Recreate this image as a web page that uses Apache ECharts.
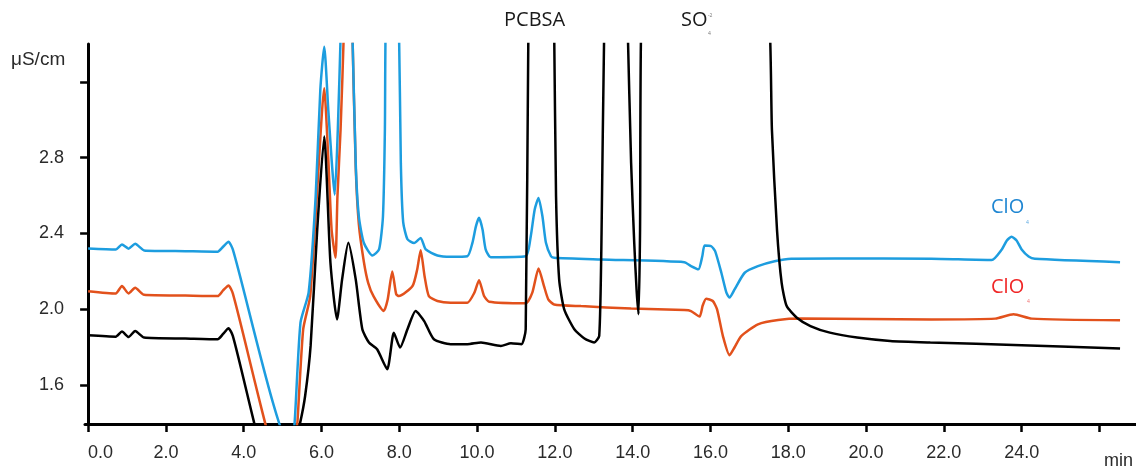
<!DOCTYPE html>
<html>
<head>
<meta charset="utf-8">
<script src="https://cdn.jsdelivr.net/npm/echarts@6/dist/echarts.min.js"></script>
<style>
  html, body { margin: 0; padding: 0; background: #fff; }
  #chart { width: 1136px; height: 471px; }
</style>
</head>
<body>
<div id="chart"></div>
<script>
// axis ticks / labels
const xTicks = [0, 2, 4, 6, 8, 10, 12, 14, 16, 18, 20, 22, 24, 26];
const xLabels = [0, 2, 4, 6, 8, 10, 12, 14, 16, 18, 20, 22, 24];
const yTicks = [1.6, 2.0, 2.4, 2.8, 3.2];
const yLabels = [1.6, 2.0, 2.4, 2.8];

// [time (min), conductivity (µS/cm)]
const blueTrace = [
  [0, 2.321], [0.71, 2.316], [0.87, 2.342], [1.04, 2.32], [1.21, 2.346], [1.44, 2.311],
  [2.5, 2.307], [3.33, 2.304], [3.47, 2.33], [3.61, 2.356], [3.72, 2.316],
  [5.22, 1.265], [5.31, 1.405], [5.46, 1.93], [5.67, 2.09], [5.85, 2.595], [5.97, 3.16],
  [6.07, 3.386], [6.18, 3.035], [6.34, 2.605], [6.42, 2.95], [6.5, 3.5], [6.64, 4.5],
  [6.79, 3.5], [6.88, 2.77], [6.96, 2.49], [7.09, 2.35], [7.31, 2.284], [7.48, 2.316],
  [7.58, 2.49], [7.63, 2.95], [7.65, 3.5], [7.82, 4.5], [7.99, 3.5], [8.04, 2.77],
  [8.1, 2.46], [8.21, 2.37], [8.38, 2.35], [8.55, 2.377], [8.68, 2.316], [8.98, 2.284],
  [9.32, 2.277], [9.75, 2.28], [9.88, 2.351], [9.97, 2.438], [10.05, 2.483], [10.14, 2.421],
  [10.22, 2.316], [10.35, 2.275], [11.25, 2.28], [11.38, 2.386], [11.48, 2.526], [11.58, 2.588],
  [11.68, 2.491], [11.77, 2.351], [11.9, 2.28], [11.98, 2.272], [13.19, 2.263], [15.33, 2.249],
  [15.5, 2.228], [15.69, 2.211], [15.79, 2.28], [15.85, 2.337], [16.02, 2.333], [16.12, 2.307],
  [16.28, 2.193], [16.41, 2.088], [16.49, 2.062], [16.62, 2.105], [16.88, 2.193], [17.22, 2.228],
  [17.65, 2.254], [18.08, 2.267], [19.2, 2.268], [21.68, 2.267], [23.23, 2.26], [23.49, 2.316],
  [23.62, 2.363], [23.74, 2.383], [23.87, 2.363], [24.0, 2.316], [24.18, 2.279], [24.34, 2.267],
  [26.53, 2.249]
];

const redTrace = [
  [0, 2.096], [0.71, 2.084], [0.87, 2.123], [1.04, 2.084], [1.21, 2.114], [1.44, 2.077],
  [2.5, 2.073], [3.33, 2.07], [3.47, 2.1], [3.61, 2.126], [3.72, 2.084],
  [5.22, 0.97], [5.38, 1.4], [5.53, 1.895], [5.71, 2.07], [5.88, 2.596], [6.07, 3.167],
  [6.18, 2.772], [6.26, 2.42], [6.36, 2.272], [6.41, 2.596], [6.49, 2.947], [6.58, 3.5],
  [6.68, 4.5], [6.79, 3.5], [6.88, 2.75], [6.96, 2.45], [7.09, 2.25], [7.2, 2.14],
  [7.34, 2.068], [7.6, 1.991], [7.7, 2.05], [7.82, 2.2], [7.92, 2.08], [7.99, 2.07],
  [8.34, 2.123], [8.46, 2.21], [8.55, 2.312], [8.65, 2.175], [8.76, 2.07], [8.98, 2.044],
  [9.32, 2.035], [9.75, 2.035], [9.93, 2.088], [10.05, 2.154], [10.18, 2.07], [10.31, 2.04],
  [11.25, 2.032], [11.42, 2.088], [11.58, 2.216], [11.72, 2.123], [11.83, 2.053], [11.98, 2.026],
  [12.67, 2.017], [13.96, 2.004], [15.33, 1.996], [15.5, 1.991], [15.72, 1.962], [15.8, 2.02],
  [15.89, 2.056], [16.06, 2.044], [16.17, 2.0], [16.32, 1.859], [16.49, 1.758], [16.62, 1.8],
  [16.79, 1.859], [17.22, 1.921], [17.74, 1.944], [18.34, 1.951], [21.68, 1.947], [23.32, 1.951],
  [23.79, 1.974], [24.26, 1.951], [26.53, 1.942]
];

const blackTrace = [
  [0, 1.863], [0.71, 1.856], [0.87, 1.883], [1.04, 1.854], [1.21, 1.886], [1.44, 1.851],
  [2.5, 1.846], [3.33, 1.842], [3.47, 1.87], [3.61, 1.9], [3.72, 1.86],
  [4.95, 0.95], [5.45, 1.4], [5.58, 1.544], [5.72, 1.807], [5.89, 2.42], [6.07, 2.912],
  [6.23, 2.246], [6.4, 1.947], [6.53, 2.158], [6.69, 2.351], [6.88, 2.158], [7.05, 1.895],
  [7.22, 1.825], [7.43, 1.789], [7.69, 1.684], [7.86, 1.877], [8.02, 1.798], [8.21, 1.895],
  [8.42, 1.991], [8.64, 1.938], [8.89, 1.842], [9.32, 1.816], [9.75, 1.816], [10.1, 1.825],
  [10.61, 1.807], [10.87, 1.821], [11.14, 1.816], [11.25, 1.895], [11.32, 3.5], [11.65, 8],
  [11.98, 3.5], [12.03, 2.596], [12.11, 2.158], [12.24, 2.0], [12.5, 1.895], [12.76, 1.846],
  [13.01, 1.825], [13.14, 1.86], [13.2, 2.4], [13.27, 3.5], [13.57, 6], [13.87, 3.5],
  [13.96, 2.772], [14.04, 2.351], [14.1, 2.105], [14.15, 1.974], [14.19, 2.421], [14.22, 3.5],
  [15.9, 8], [17.52, 3.5], [17.58, 2.947], [17.71, 2.421], [17.83, 2.14], [17.96, 2.017],
  [18.22, 1.956], [18.57, 1.912], [19.07, 1.877], [19.77, 1.851], [20.62, 1.833], [21.65, 1.825],
  [24.0, 1.811], [26.53, 1.793]
];

const chart = echarts.init(document.getElementById('chart'));

const axisFont = { fontFamily: 'Liberation Sans, Arial, sans-serif', fontSize: 18, color: '#2a2a2a' };
const peakFont = 'Open Sans, Noto Sans, sans-serif';

function trace(name, data, color) {
  return {
    name: name,
    type: 'line',
    data: data,
    symbol: 'none',
    smooth: 0.2,
    clip: true,
    lineStyle: { color: color, width: 2.5 },
    emphasis: { disabled: true }
  };
}

chart.setOption({
  animation: false,
  backgroundColor: '#fff',
  grid: { left: 85, right: 0, top: 44, bottom: 47, containLabel: false, outerBoundsMode: 'none' },
  xAxis: {
    type: 'value',
    min: -0.08,
    max: 26.94,
    splitLine: { show: false },
    axisLine: { lineStyle: { color: '#000', width: 3 } },
    axisTick: { customValues: xTicks, length: 8, lineStyle: { color: '#000', width: 2.5 } },
    axisLabel: Object.assign({
      customValues: xLabels,
      margin: 20,
      // first label sits to the right of its tick in the original
      formatter: v => (v === 0 ? '{first|0.0}' : v.toFixed(1)),
      rich: { first: Object.assign({ padding: [0, 0, 0, 25] }, axisFont) }
    }, axisFont)
  },
  yAxis: {
    type: 'value',
    min: 1.395,
    max: 3.4,
    splitLine: { show: false },
    axisLine: { show: true, lineStyle: { color: '#000', width: 3 } },
    axisTick: { show: true, customValues: yTicks, length: 8, lineStyle: { color: '#000', width: 2.5 } },
    axisLabel: Object.assign({ customValues: yLabels, margin: 21, formatter: v => v.toFixed(1) }, axisFont)
  },
  series: [
    trace('ClO4 red', redTrace, '#e2511c'),
    trace('ClO4 blue', blueTrace, '#1d9ddf'),
    trace('sample', blackTrace, '#000')
  ],
  graphic: [
    { type: 'text', left: 11, top: 50, style: { text: 'μS/cm', fontFamily: 'Liberation Sans, Arial, sans-serif', fontSize: 19, fill: '#2a2a2a' } },
    { type: 'text', left: 1104, top: 452, style: { text: 'min', fontFamily: 'Liberation Sans, Arial, sans-serif', fontSize: 18, fill: '#2a2a2a' } },
    { type: 'text', left: 504, top: 10, style: { text: 'PCBSA', fontFamily: peakFont, fontSize: 20, fill: '#1a1a1a' } },
    { type: 'text', left: 681, top: 10, style: { text: 'SO', fontFamily: peakFont, fontSize: 20, fill: '#1a1a1a' } },
    { type: 'text', left: 708, top: 13, style: { text: '-2', fontFamily: peakFont, fontSize: 5, fill: '#777' } },
    { type: 'text', left: 708, top: 31, style: { text: '4', fontFamily: peakFont, fontSize: 5, fill: '#777' } },
    { type: 'text', left: 991, top: 197, style: { text: 'ClO', fontFamily: peakFont, fontSize: 20, fill: '#1f86d2' } },
    { type: 'text', left: 1026, top: 220, style: { text: '4', fontFamily: peakFont, fontSize: 5, fill: '#5aa8e0' } },
    { type: 'text', left: 991, top: 277, style: { text: 'ClO', fontFamily: peakFont, fontSize: 20, fill: '#f02626' } },
    { type: 'text', left: 1027, top: 299, style: { text: '4', fontFamily: peakFont, fontSize: 5, fill: '#f07070' } }
  ]
});
</script>
</body>
</html>
